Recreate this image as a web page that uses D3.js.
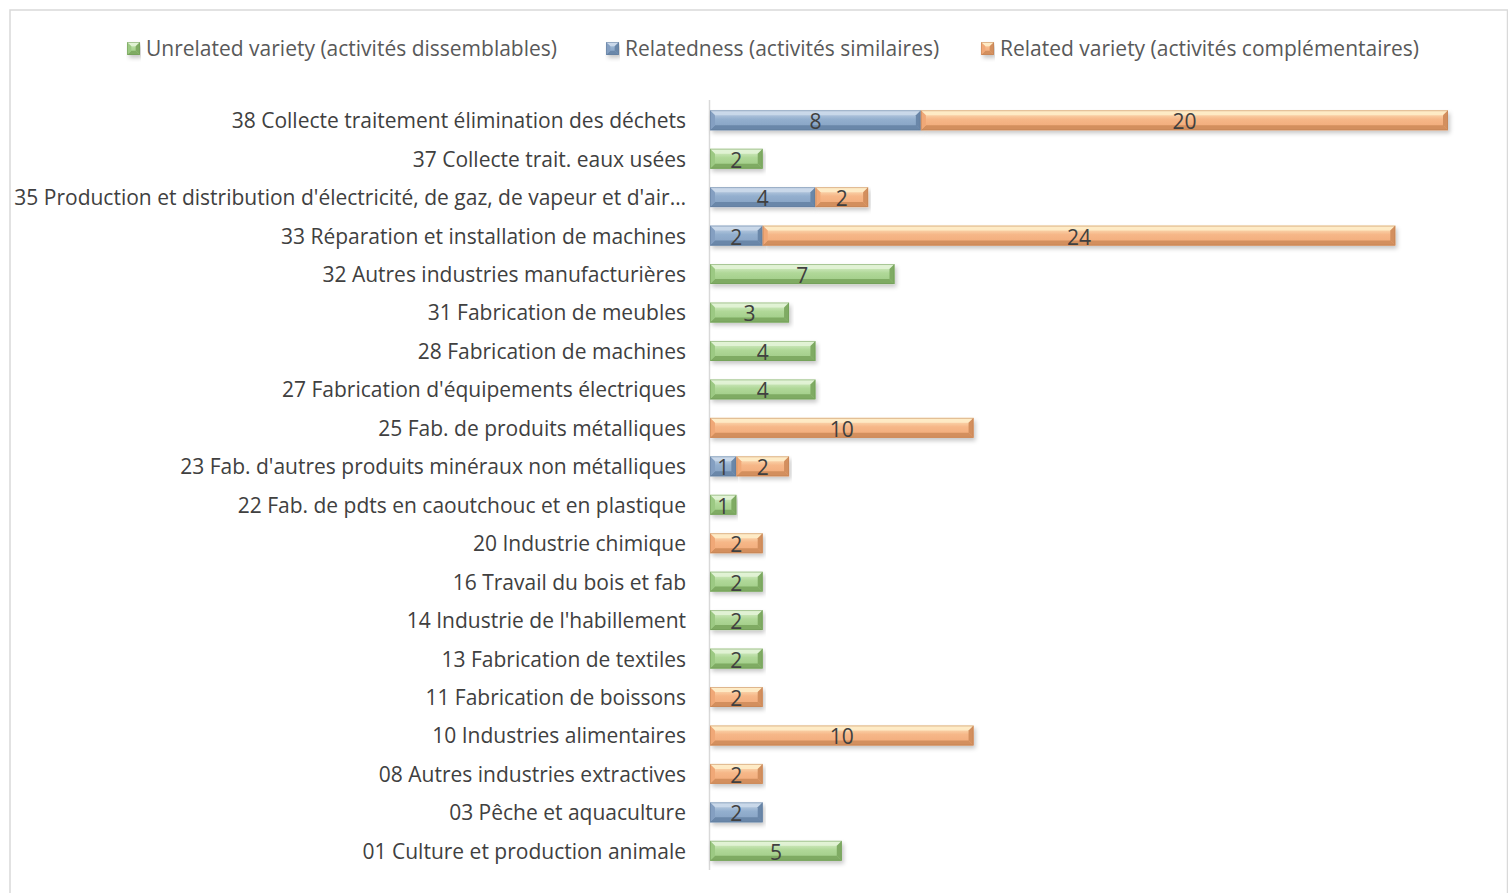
<!DOCTYPE html>
<html lang="fr">
<head>
<meta charset="UTF-8">
<title>Variété des activités</title>
<script src="https://d3js.org/d3.v7.min.js"></script>
<style>
  body { margin: 0; background: #fff; }
  svg { display: block; font-family: "Open Sans", "Noto Sans", sans-serif; }
</style>
</head>
<body>
<div id="chartArea"></div>
<script>
// categories, top to bottom
const categories = [
  "38 Collecte traitement élimination des déchets",
  "37 Collecte trait. eaux usées",
  "35 Production et distribution d'électricité, de gaz, de vapeur et d'air…",
  "33 Réparation et installation de machines ",
  "32 Autres industries manufacturières",
  "31 Fabrication de meubles",
  "28 Fabrication de machines ",
  "27 Fabrication d'équipements électriques",
  "25 Fab. de produits métalliques ",
  "23 Fab. d'autres produits minéraux non métalliques",
  "22 Fab. de pdts en caoutchouc et en plastique",
  "20 Industrie chimique",
  "16 Travail du bois et fab",
  "14 Industrie de l'habillement",
  "13 Fabrication de textiles",
  "11 Fabrication de boissons",
  "10 Industries alimentaires",
  "08 Autres industries extractives",
  "03 Pêche et aquaculture",
  "01 Culture et production animale"
];
const unrelated      = [0, 2, 0, 0, 7, 3, 4, 4, 0, 0, 1, 0, 2, 2, 2, 0, 0, 0, 0, 5];
const relatedness    = [8, 0, 4, 2, 0, 0, 0, 0, 0, 1, 0, 0, 0, 0, 0, 0, 0, 0, 2, 0];
const relatedVariety = [20, 0, 2, 24, 0, 0, 0, 0, 10, 2, 0, 2, 0, 0, 0, 2, 10, 2, 0, 0];
const seriesNames = [
  "Unrelated variety (activités dissemblables)",
  "Relatedness (activités similaires)",
  "Related variety (activités complémentaires)"
];
const keys = ["u", "r", "rv"];

const palette = {
  u:  { base: "#b0d898", light: "#e2f3d6", dark: "#7fab63", side: "#9cc983", line: "#6e9a54" },
  r:  { base: "#93afce", light: "#cbd9ea", dark: "#6a87a9", side: "#849fc1", line: "#5f7b9c" },
  rv: { base: "#f6b788", light: "#feecc8", dark: "#d38f5e", side: "#f0a877", line: "#c07f52" }
};

const W = 1508, H = 893;
const FS = 21;
const svg = d3.select("#chartArea").append("svg").attr("width", W).attr("height", H);

// chart frame
svg.append("rect").attr("x", 10).attr("y", 10).attr("width", W - 10.5).attr("height", H)
  .attr("fill", "#fff").attr("stroke", "#d9d9d9").attr("stroke-width", 1.5);

const defs = svg.append("defs");
const f = defs.append("filter").attr("id", "shadow").attr("x", "-5%").attr("y", "-30%").attr("width", "110%").attr("height", "180%");
f.append("feDropShadow").attr("dx", 2).attr("dy", 3).attr("stdDeviation", 2)
  .attr("flood-color", "#000").attr("flood-opacity", 0.22);
keys.forEach(k => {
  const g = defs.append("linearGradient").attr("id", "grad-" + k)
    .attr("x1", 0).attr("y1", 0).attr("x2", 0).attr("y2", 1);
  g.append("stop").attr("offset", "0%").attr("stop-color", palette[k].light);
  g.append("stop").attr("offset", "45%").attr("stop-color", palette[k].base);
  g.append("stop").attr("offset", "100%").attr("stop-color", palette[k].side);
});

const rows = categories.map((c, i) => ({ cat: c, u: unrelated[i], r: relatedness[i], rv: relatedVariety[i] }));
const stacked = d3.stack().keys(keys)(rows);

const x = d3.scaleLinear().domain([0, 28]).range([710, 1448]);
const y = d3.scaleBand().domain(categories).range([101, 870]).paddingInner(0.48).paddingOuter(0.24);

// category labels
svg.append("g").selectAll("text").data(categories).join("text")
  .attr("x", 686).attr("y", d => y(d) + y.bandwidth() / 2)
  .attr("text-anchor", "end").attr("dominant-baseline", "central")
  .attr("font-size", FS).attr("fill", "#404040")
  .text(d => d);

// axis line
svg.append("line").attr("x1", 709.5).attr("x2", 709.5).attr("y1", 100).attr("y2", 870)
  .attr("stroke", "#d9d9d9").attr("stroke-width", 1.5);

function bevel(g, x0, x1, y0, h, k) {
  const c = palette[k], b = Math.min(5, (x1 - x0) / 3), y1 = y0 + h;
  g.append("rect").attr("x", x0).attr("y", y0).attr("width", x1 - x0).attr("height", h)
    .attr("fill", "url(#grad-" + k + ")").attr("filter", "url(#shadow)");
  g.append("polygon").attr("points", [[x0, y0], [x1, y0], [x1 - b, y0 + b], [x0 + b, y0 + b]].join(" "))
    .attr("fill", c.light).attr("opacity", 0.9);
  g.append("polygon").attr("points", [[x0, y1], [x1, y1], [x1 - b, y1 - b], [x0 + b, y1 - b]].join(" "))
    .attr("fill", c.dark);
  g.append("polygon").attr("points", [[x0, y0], [x0 + b, y0 + b], [x0 + b, y1 - b], [x0, y1]].join(" "))
    .attr("fill", c.side);
  g.append("polygon").attr("points", [[x1, y0], [x1 - b, y0 + b], [x1 - b, y1 - b], [x1, y1]].join(" "))
    .attr("fill", c.dark);
  g.append("rect").attr("x", x0 + 0.5).attr("y", y0 + 0.5).attr("width", x1 - x0 - 1).attr("height", h - 1)
    .attr("fill", "none").attr("stroke", c.line).attr("stroke-width", 1).attr("opacity", 0.5);
}

const bars = svg.append("g");
stacked.forEach(s => {
  s.forEach(d => {
    if (!(d[1] - d[0])) return;
    bevel(bars.append("g"), x(d[0]), x(d[1]), y(d.data.cat), y.bandwidth(), s.key);
  });
});
const labels = svg.append("g");
stacked.forEach(s => {
  s.forEach(d => {
    const v = d[1] - d[0];
    if (!v) return;
    labels.append("text")
      .attr("x", (x(d[0]) + x(d[1])) / 2).attr("y", y(d.data.cat) + y.bandwidth() / 2 + 1)
      .attr("text-anchor", "middle").attr("dominant-baseline", "central")
      .attr("font-size", FS).attr("fill", "#404040").text(v);
  });
});

// legend
const legendX = [127, 606, 981];
const legend = svg.append("g");
keys.forEach((k, i) => {
  const g = legend.append("g");
  bevel(g, legendX[i], legendX[i] + 13, 42, 13, k);
  g.append("text").attr("x", legendX[i] + 19).attr("y", 48)
    .attr("dominant-baseline", "central").attr("font-size", FS).attr("fill", "#595959")
    .text(seriesNames[i]);
});
</script>
</body>
</html>
